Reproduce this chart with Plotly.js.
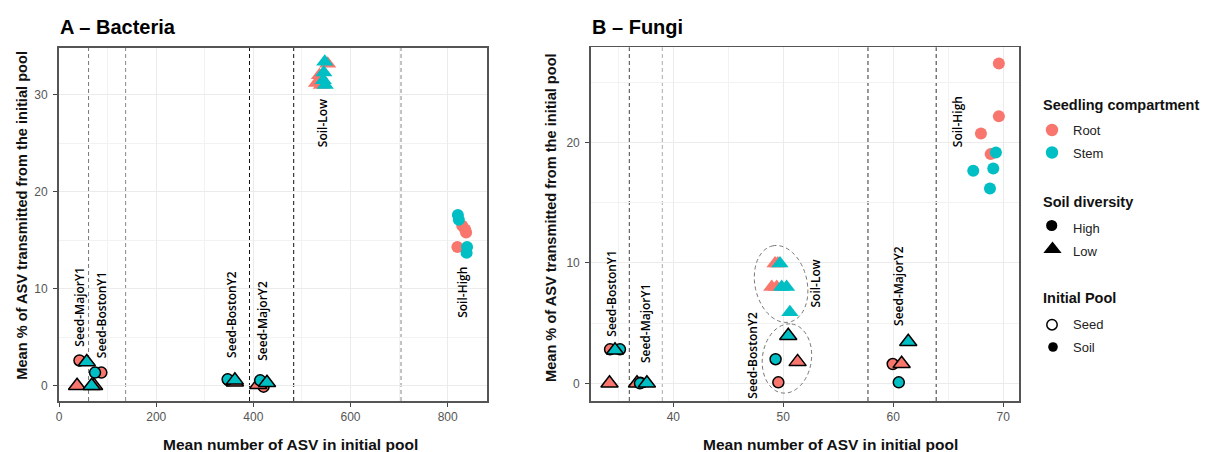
<!DOCTYPE html>
<html><head><meta charset="utf-8">
<script src="https://cdn.plot.ly/plotly-3.0.1.min.js"></script>
<style>html,body{margin:0;padding:0;background:#fff;}#chart{width:1220px;height:452px;}</style>
</head><body><div id="chart"></div>
<script>
// ---------------- DATA: A – Bacteria ----------------
const bacSeedRootHighX = [42, 87, 349, 421];
const bacSeedRootHighY = [2.6, 1.35, 0.55, -0.1];
const bacSeedRootLowX  = [37, 72, 362, 410];
const bacSeedRootLowY  = [0, 0, 0.35, 0.1];
const bacSeedStemHighX = [74, 347, 414];
const bacSeedStemHighY = [1.35, 0.65, 0.55];
const bacSeedStemLowX  = [57, 67, 362, 428];
const bacSeedStemLowY  = [2.45, 0, 0.55, 0.3];
const bacSoilRootHighX = [830, 836, 838, 820];
const bacSoilRootHighY = [16.5, 16.1, 15.8, 14.3];
const bacSoilStemHighX = [821, 823, 840, 839];
const bacSoilStemHighY = [17.6, 17.1, 14.3, 13.7];
const bacSoilRootLowX  = [553, 536, 530, 540];
const bacSoilRootLowY  = [33.2, 32.0, 31.2, 31.0];
const bacSoilStemLowX  = [547, 545, 544, 548];
const bacSoilStemLowY  = [33.4, 32.3, 31.5, 31.0];
const bacCutoffs = [60.7, 137, 392, 483, 704];
const bacLabels  = ["Seed-MajorY1", "Seed-BostonY1", "Seed-BostonY2", "Seed-MajorY2", "Soil-Low", "Soil-High"];
const bacLabelX  = [42, 89, 356, 420, 544, 830];
const bacLabelY  = [8.2, 7.3, 7.3, 6.7, 27.1, 9.6];

// ---------------- DATA: B – Fungi ----------------
const funSeedRootHighX = [34.25, 37.0, 49.55, 59.95];
const funSeedRootHighY = [2.82, 0.05, 0.08, 1.6];
const funSeedRootLowX  = [34.2, 36.7, 51.3, 60.76];
const funSeedRootLowY  = [0, 0, 1.78, 1.63];
const funSeedStemHighX = [35.15, 36.97, 49.3, 60.5];
const funSeedStemHighY = [2.82, 0, 2.0, 0.08];
const funSeedStemLowX  = [34.7, 37.6, 50.45, 61.36];
const funSeedStemLowY  = [2.75, 0, 3.95, 3.45];
const funSoilRootHighX = [69.6, 69.6, 67.97, 68.85];
const funSoilRootHighY = [26.56, 22.18, 20.75, 19.03];
const funSoilStemHighX = [69.33, 69.09, 67.27, 68.79];
const funSoilStemHighY = [19.17, 17.84, 17.64, 16.18];
const funSoilRootLowX  = [49.25, 49.5, 48.95, 49.4];
const funSoilRootLowY  = [9.95, 9.95, 8.0, 8.0];
const funSoilStemLowX  = [49.7, 49.85, 50.3, 50.6];
const funSoilStemLowY  = [9.95, 8.0, 8.0, 5.9];
const funCutoffs = [36.0, 39.0, 57.7, 63.9];
const funLabels  = ["Seed-BostonY1", "Seed-MajorY1", "Seed-BostonY2", "Soil-Low", "Seed-MajorY2", "Soil-High"];
const funLabelX  = [34.4, 37.43, 47.25, 52.9, 60.54, 65.9];
const funLabelY  = [7.5, 5.0, 2.3, 8.3, 8.1, 21.7];

// ---------------- STYLE / LAYOUT ----------------
const W = 1220, H = 452;
const RED = '#F8766D', TEAL = '#00BFC4';
const geo = {A:{l:58.6, r:487, t:47.7, b:401}, B:{l:590.7, r:1019, t:47.3, b:401}};
const rng = {ax:[-1, 881], ay:[-1.58, 34.85], bx:[32.49, 71.43], by:[-1.47, 27.9]};
const px = p => p / W, py = p => 1 - p / H;
const bacCutColors = ['#777', '#888', '#111', '#111', '#888'];
const funCutColors = ['#444', '#aaa', '#333', '#333'];
const ellipses = [ // center (data), semi-axes (px), tilt (deg)
  {cx:49.8, cy:8.25, a:39, b:26, phi:12.8},
  {cx:50.33, cy:2.06, a:34.8, b:24.5, phi:-8}
];

function mk(x, y, color, seed, tri, xa, ya) {
  return {
    type:'scatter', mode:'markers', x:x, y:y, xaxis:xa, yaxis:ya, showlegend:false, hoverinfo:'skip',
    marker:{symbol: tri ? 'triangle-up' : 'circle', size: tri ? 15 : (seed ? 11 : 12), color:color,
            line:{color:'#000', width: seed ? 1.5 : 0}}
  };
}

const traces = [
  mk(bacSoilRootHighX, bacSoilRootHighY, RED, false, false, 'x', 'y'),
  mk(bacSoilRootLowX,  bacSoilRootLowY,  RED, false, true,  'x', 'y'),
  mk(bacSeedRootHighX, bacSeedRootHighY, RED, true,  false, 'x', 'y'),
  mk(bacSeedRootLowX,  bacSeedRootLowY,  RED, true,  true,  'x', 'y'),
  mk(bacSoilStemHighX, bacSoilStemHighY, TEAL, false, false, 'x', 'y'),
  mk(bacSoilStemLowX,  bacSoilStemLowY,  TEAL, false, true,  'x', 'y'),
  mk(bacSeedStemHighX, bacSeedStemHighY, TEAL, true,  false, 'x', 'y'),
  mk(bacSeedStemLowX,  bacSeedStemLowY,  TEAL, true,  true,  'x', 'y'),
  mk(funSoilRootHighX, funSoilRootHighY, RED, false, false, 'x2', 'y2'),
  mk(funSoilRootLowX,  funSoilRootLowY,  RED, false, true,  'x2', 'y2'),
  mk(funSeedRootHighX, funSeedRootHighY, RED, true,  false, 'x2', 'y2'),
  mk(funSeedRootLowX,  funSeedRootLowY,  RED, true,  true,  'x2', 'y2'),
  mk(funSoilStemHighX, funSoilStemHighY, TEAL, false, false, 'x2', 'y2'),
  mk(funSoilStemLowX,  funSoilStemLowY,  TEAL, false, true,  'x2', 'y2'),
  mk(funSeedStemHighX, funSeedStemHighY, TEAL, true,  false, 'x2', 'y2'),
  mk(funSeedStemLowX,  funSeedStemLowY,  TEAL, true,  true,  'x2', 'y2')
];

const tickFont = {family:'Liberation Sans, Arial, sans-serif', size:12, color:'#555'};
function axis(dom, r, dtick, minor, anchor, standoff) {
  return {domain:dom, range:r, dtick:dtick, tick0:0, anchor:anchor, showgrid:true, gridcolor:'#ebebeb', gridwidth:1,
    minor:{dtick:minor, tick0:0, showgrid:true, gridcolor:'#f2f2f2', gridwidth:1},
    ticks:'outside', ticklen:4, tickwidth:1, tickcolor:'#444', tickfont:tickFont, ticklabelstandoff:standoff,
    showline:true, mirror:true, linecolor:'#555', linewidth:1.5, zeroline:false, fixedrange:true};
}

const shapes = [];
bacCutoffs.forEach((v, i) => shapes.push({type:'line', xref:'x', yref:'y domain', x0:v, x1:v, y0:0, y1:1,
  line:{color:bacCutColors[i], width:1, dash:'4px,3px'}, layer:'below'}));
funCutoffs.forEach((v, i) => shapes.push({type:'line', xref:'x2', yref:'y2 domain', x0:v, x1:v, y0:0, y1:1,
  line:{color:funCutColors[i], width:1, dash:'4px,3px'}, layer:'below'}));

function ellipsePath(e, g, xr, yr) {
  const pxX = (g.r - g.l) / (xr[1] - xr[0]), pxY = (g.b - g.t) / (yr[1] - yr[0]);
  const f = e.phi * Math.PI / 180;
  const mx = -Math.sin(f), my = -Math.cos(f), nx = Math.cos(f), ny = -Math.sin(f);
  let d = '';
  for (let i = 0; i <= 90; i++) {
    const t = i / 90 * 2 * Math.PI;
    const sx = e.a * Math.cos(t) * mx + e.b * Math.sin(t) * nx;
    const sy = e.a * Math.cos(t) * my + e.b * Math.sin(t) * ny;
    d += (i ? 'L' : 'M') + (e.cx + sx / pxX).toFixed(4) + ',' + (e.cy - sy / pxY).toFixed(4);
  }
  return d + 'Z';
}
ellipses.forEach(e => shapes.push({type:'path', xref:'x2', yref:'y2', path:ellipsePath(e, geo.B, rng.bx, rng.by),
  line:{color:'#666', width:0.9, dash:'4px,3px'}, fillcolor:'rgba(0,0,0,0)'}));

// legend symbols (paper coords)
function circ(cx, cy, r, fill, lw) {
  return {type:'circle', xref:'paper', yref:'paper', x0:px(cx - r), x1:px(cx + r), y0:py(cy + r), y1:py(cy - r),
    fillcolor:fill, line:{color:'#000', width:lw}};
}
function tri(cx, cy, w, h, fill) {
  return {type:'path', xref:'paper', yref:'paper', fillcolor:fill, line:{width:0},
    path:'M' + px(cx - w/2) + ',' + py(cy + h/2) + 'L' + px(cx + w/2) + ',' + py(cy + h/2) + 'L' + px(cx) + ',' + py(cy - h/2) + 'Z'};
}
shapes.push(circ(1052, 130, 6.2, RED, 0));
shapes.push(circ(1052, 152.5, 6.2, TEAL, 0));
shapes.push(circ(1051.7, 225.5, 5.6, '#000', 0));
shapes.push(tri(1052.5, 247.2, 18.3, 11.5, '#000'));
shapes.push(circ(1052, 324.7, 5.2, '#fff', 1.5));
shapes.push(circ(1053, 347, 4.8, '#000', 0));

const annotations = [];
const lblFont = {family:'Open Sans, Noto Sans, sans-serif', size:12, color:'#000', weight:600};
bacLabels.forEach((t, i) => annotations.push({text:t, x:bacLabelX[i], y:bacLabelY[i], xref:'x', yref:'y',
  textangle:-90, showarrow:false, font:lblFont, xanchor:'center', yanchor:'middle'}));
funLabels.forEach((t, i) => annotations.push({text:t, x:funLabelX[i], y:funLabelY[i], xref:'x2', yref:'y2',
  textangle:-90, showarrow:false, font:lblFont, xanchor:'center', yanchor:'middle'}));

const bold = (s, c) => ({family:'Liberation Sans, Arial, sans-serif', size:s, color:c || '#000', weight:700});
function ann(text, x, y, font, xa, ang) {
  return {text:text, x:px(x), y:py(y), xref:'paper', yref:'paper', showarrow:false, font:font,
    xanchor:xa || 'center', yanchor:'middle', textangle:ang || 0};
}
annotations.push(ann('A – Bacteria', 57.5, 26.5, bold(20), 'left'));
annotations.push(ann('B – Fungi', 590, 26.5, bold(20), 'left'));
annotations.push(ann('Mean % of ASV transmitted from the initial pool', 21.7, 215, bold(14.6, '#111'), 'center', -90));
annotations.push(ann('Mean % of ASV transmitted from the initial pool', 551, 218, bold(14.6, '#111'), 'center', -90));
annotations.push(ann('Mean number of ASV in initial pool', 290, 444, bold(15.5, '#111')));
annotations.push(ann('Mean number of ASV in initial pool', 830, 444, bold(15.5, '#111')));
// legend text
annotations.push(ann('Seedling compartment', 1040.5, 105, bold(14.5, '#111'), 'left'));
annotations.push(ann('Soil diversity', 1040.5, 201.7, bold(14.5, '#111'), 'left'));
annotations.push(ann('Initial Pool', 1040.5, 298, bold(14.5, '#111'), 'left'));
const itemFont = {family:'Liberation Sans, Arial, sans-serif', size:13, color:'#222'};
[['Root',130],['Stem',153],['High',228],['Low',251],['Seed',324.5],['Soil',347]].forEach(p =>
  annotations.push(ann(p[0], 1070.5, p[1], itemFont, 'left')));

const layout = {
  width:W, height:H, margin:{l:0, r:0, t:0, b:0}, paper_bgcolor:'#fff', plot_bgcolor:'#fff', showlegend:false,
  xaxis: axis([px(geo.A.l), px(geo.A.r)], rng.ax, 200, 100, 'y', 0),
  yaxis: axis([py(geo.A.b), py(geo.A.t)], rng.ay, 10, 5, 'x', 3),
  xaxis2: axis([px(geo.B.l), px(geo.B.r)], rng.bx, 10, 5, 'y2', 0),
  yaxis2: axis([py(geo.B.b), py(geo.B.t)], rng.by, 10, 5, 'x2', 3),
  shapes:shapes, annotations:annotations
};
Plotly.newPlot('chart', traces, layout, {displayModeBar:false, staticPlot:true});
</script></body></html>
